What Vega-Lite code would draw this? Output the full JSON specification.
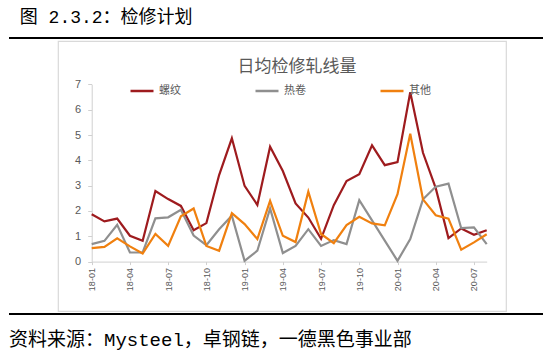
{
  "$schema": "https://vega.github.io/schema/vega-lite/v6.json",
  "background": "white",
  "padding": {"left": 9, "top": 9, "right": 0, "bottom": 12},
  "spacing": 1,
  "vconcat": [
    {"width": 534, "height": 2, "view": {"fill": "#000000", "stroke": null}, "data": {"values": []}, "mark": "point",
     "title": {"text": "\u200b\u00a0图 2.3.2：检修计划", "anchor": "start", "font": "Liberation Mono, Noto Sans CJK SC", "fontSize": 18, "fontWeight": "normal", "color": "#000000", "baseline": "top", "offset": 10}},
    {
      "spacing": 47,
      "hconcat": [
        {"width": 1, "height": 1, "view": {"fill": null, "stroke": null}, "data": {"values": []}, "mark": "point"},
        {
          "width": 448,
          "height": 270,
          "view": {"stroke": "#d9d9d9", "strokeWidth": 1.2, "fill": "white"},
          "title": {"text": "日均检修轧线量", "anchor": "middle", "dx": 15, "offset": -43, "font": "Noto Sans CJK SC", "fontSize": 17, "fontWeight": "normal", "color": "#595959", "baseline": "middle"},
          "data": {"values": [
            {"month": "18-01", "series": "螺纹", "value": 1.87},
            {"month": "18-02", "series": "螺纹", "value": 1.59},
            {"month": "18-03", "series": "螺纹", "value": 1.70},
            {"month": "18-04", "series": "螺纹", "value": 1.02},
            {"month": "18-05", "series": "螺纹", "value": 0.82},
            {"month": "18-06", "series": "螺纹", "value": 2.79},
            {"month": "18-07", "series": "螺纹", "value": 2.47},
            {"month": "18-08", "series": "螺纹", "value": 2.20},
            {"month": "18-09", "series": "螺纹", "value": 1.24},
            {"month": "18-10", "series": "螺纹", "value": 1.52},
            {"month": "18-11", "series": "螺纹", "value": 3.42},
            {"month": "18-12", "series": "螺纹", "value": 4.87},
            {"month": "19-01", "series": "螺纹", "value": 2.99},
            {"month": "19-02", "series": "螺纹", "value": 2.24},
            {"month": "19-03", "series": "螺纹", "value": 4.54},
            {"month": "19-04", "series": "螺纹", "value": 3.58},
            {"month": "19-05", "series": "螺纹", "value": 2.30},
            {"month": "19-06", "series": "螺纹", "value": 1.74},
            {"month": "19-07", "series": "螺纹", "value": 0.90},
            {"month": "19-08", "series": "螺纹", "value": 2.23},
            {"month": "19-09", "series": "螺纹", "value": 3.18},
            {"month": "19-10", "series": "螺纹", "value": 3.45},
            {"month": "19-11", "series": "螺纹", "value": 4.59},
            {"month": "19-12", "series": "螺纹", "value": 3.81},
            {"month": "20-01", "series": "螺纹", "value": 3.93},
            {"month": "20-02", "series": "螺纹", "value": 6.69},
            {"month": "20-03", "series": "螺纹", "value": 4.30},
            {"month": "20-04", "series": "螺纹", "value": 2.90},
            {"month": "20-05", "series": "螺纹", "value": 0.93},
            {"month": "20-06", "series": "螺纹", "value": 1.31},
            {"month": "20-07", "series": "螺纹", "value": 1.06},
            {"month": "20-08", "series": "螺纹", "value": 1.24},
            {"month": "18-01", "series": "热卷", "value": 0.69},
            {"month": "18-02", "series": "热卷", "value": 0.82},
            {"month": "18-03", "series": "热卷", "value": 1.45},
            {"month": "18-04", "series": "热卷", "value": 0.36},
            {"month": "18-05", "series": "热卷", "value": 0.36},
            {"month": "18-06", "series": "热卷", "value": 1.71},
            {"month": "18-07", "series": "热卷", "value": 1.75},
            {"month": "18-08", "series": "热卷", "value": 2.05},
            {"month": "18-09", "series": "热卷", "value": 1.03},
            {"month": "18-10", "series": "热卷", "value": 0.65},
            {"month": "18-11", "series": "热卷", "value": 1.28},
            {"month": "18-12", "series": "热卷", "value": 1.81},
            {"month": "19-01", "series": "热卷", "value": 0.03},
            {"month": "19-02", "series": "热卷", "value": 0.43},
            {"month": "19-03", "series": "热卷", "value": 2.10},
            {"month": "19-04", "series": "热卷", "value": 0.34},
            {"month": "19-05", "series": "热卷", "value": 0.62},
            {"month": "19-06", "series": "热卷", "value": 1.28},
            {"month": "19-07", "series": "热卷", "value": 0.62},
            {"month": "19-08", "series": "热卷", "value": 0.85},
            {"month": "19-09", "series": "热卷", "value": 0.69},
            {"month": "19-10", "series": "热卷", "value": 2.43},
            {"month": "19-11", "series": "热卷", "value": 1.63},
            {"month": "19-12", "series": "热卷", "value": 0.83},
            {"month": "20-01", "series": "热卷", "value": 0.03},
            {"month": "20-02", "series": "热卷", "value": 0.89},
            {"month": "20-03", "series": "热卷", "value": 2.46},
            {"month": "20-04", "series": "热卷", "value": 2.96},
            {"month": "20-05", "series": "热卷", "value": 3.08},
            {"month": "20-06", "series": "热卷", "value": 1.32},
            {"month": "20-07", "series": "热卷", "value": 1.35},
            {"month": "20-08", "series": "热卷", "value": 0.69},
            {"month": "18-01", "series": "其他", "value": 0.53},
            {"month": "18-02", "series": "其他", "value": 0.58},
            {"month": "18-03", "series": "其他", "value": 0.92},
            {"month": "18-04", "series": "其他", "value": 0.60},
            {"month": "18-05", "series": "其他", "value": 0.32},
            {"month": "18-06", "series": "其他", "value": 1.09},
            {"month": "18-07", "series": "其他", "value": 0.62},
            {"month": "18-08", "series": "其他", "value": 1.79},
            {"month": "18-09", "series": "其他", "value": 2.10},
            {"month": "18-10", "series": "其他", "value": 0.62},
            {"month": "18-11", "series": "其他", "value": 0.43},
            {"month": "18-12", "series": "其他", "value": 1.91},
            {"month": "19-01", "series": "其他", "value": 1.48},
            {"month": "19-02", "series": "其他", "value": 0.89},
            {"month": "19-03", "series": "其他", "value": 2.40},
            {"month": "19-04", "series": "其他", "value": 1.02},
            {"month": "19-05", "series": "其他", "value": 0.77},
            {"month": "19-06", "series": "其他", "value": 2.76},
            {"month": "19-07", "series": "其他", "value": 1.09},
            {"month": "19-08", "series": "其他", "value": 0.73},
            {"month": "19-09", "series": "其他", "value": 1.44},
            {"month": "19-10", "series": "其他", "value": 1.77},
            {"month": "19-11", "series": "其他", "value": 1.51},
            {"month": "19-12", "series": "其他", "value": 1.43},
            {"month": "20-01", "series": "其他", "value": 2.66},
            {"month": "20-02", "series": "其他", "value": 5.05},
            {"month": "20-03", "series": "其他", "value": 2.46},
            {"month": "20-04", "series": "其他", "value": 1.83},
            {"month": "20-05", "series": "其他", "value": 1.70},
            {"month": "20-06", "series": "其他", "value": 0.47},
            {"month": "20-07", "series": "其他", "value": 0.76},
            {"month": "20-08", "series": "其他", "value": 1.08}
          ]},
          "mark": {"type": "line", "strokeWidth": 2.2, "clip": false},
          "encoding": {
            "x": {
              "field": "month", "type": "ordinal",
              "scale": {"type": "point", "range": [33.7, 428.7], "padding": 0},
              "axis": {"values": ["18-01", "18-04", "18-07", "18-10", "19-01", "19-04", "19-07", "19-10", "20-01", "20-04", "20-07"], "labelAngle": -90, "offset": -49.4, "title": null, "grid": false, "domainColor": "#d0d0d0", "tickColor": "#d0d0d0", "tickSize": 3, "labelFontSize": 9, "labelFont": "Liberation Sans", "labelColor": "#595959", "labelPadding": 3}
            },
            "y": {
              "field": "value", "type": "quantitative",
              "scale": {"domain": [0, 7], "range": [220.6, 43.4], "nice": false},
              "axis": {"values": [0, 1, 2, 3, 4, 5, 6, 7], "offset": -33.7, "title": null, "grid": false, "domainColor": "#d0d0d0", "tickColor": "#d0d0d0", "tickSize": 4, "labelFontSize": 11, "labelFont": "Liberation Sans", "labelColor": "#595959", "labelPadding": 7}
            },
            "color": {
              "field": "series", "type": "nominal",
              "scale": {"domain": ["螺纹", "热卷", "其他"], "range": ["#9E1B1E", "#8F8F8F", "#F0800F"]},
              "legend": {"orient": "none", "legendX": 120, "legendY": 41, "direction": "horizontal", "title": null, "symbolType": "stroke", "symbolSize": 529, "symbolStrokeWidth": 2.5, "labelFontSize": 11, "labelFont": "Noto Sans CJK SC", "labelColor": "#595959", "labelOffset": 4, "columnPadding": 69}
            }
          }
        }
      ]
    },
    {"width": 534, "height": 2, "view": {"fill": "#000000", "stroke": null}, "data": {"values": []}, "mark": "point",
     "title": {"text": "资料来源：Mysteel，卓钢链，一德黑色事业部", "orient": "bottom", "anchor": "start", "font": "Liberation Mono, Noto Sans CJK SC", "fontSize": 19, "fontWeight": "normal", "color": "#000000", "baseline": "top", "offset": 16}}
  ]
}
